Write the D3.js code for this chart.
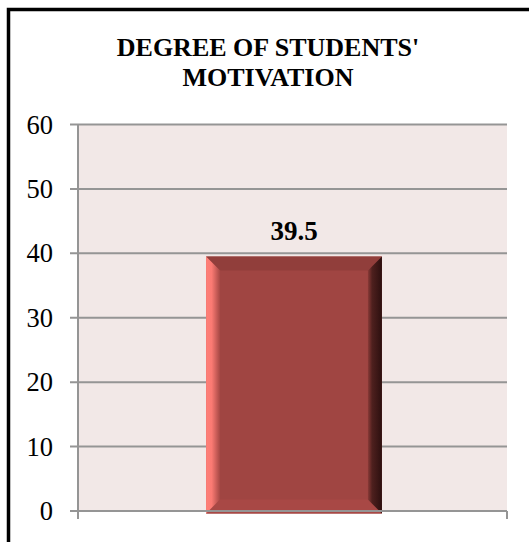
<!DOCTYPE html>
<html>
<head>
<meta charset="utf-8">
<script src="https://cdn.jsdelivr.net/npm/d3@7"></script>
<style>
  html, body { margin: 0; padding: 0; background: #fff; overflow: hidden; }
  svg text { font-family: "Liberation Serif", "Times New Roman", Tinos, serif; }
</style>
</head>
<body>
<div id="chart"></div>
<script>
const width = 529;
const height = 542;
const margin = { top: 124.5, right: 22, bottom: 31, left: 78 };

// Data
const categories = [""];
const values = [39.5];
const yTicks = [0, 10, 20, 30, 40, 50, 60];
const titleLines = ["DEGREE OF STUDENTS'", "MOTIVATION"];

const svg = d3
  .select("#chart")
  .append("svg")
  .attr("width", width)
  .attr("height", height);

// Outer chart border (runs off the right and bottom of the picture)
svg
  .append("rect")
  .attr("x", 8.5)
  .attr("y", 9.5)
  .attr("width", 700)
  .attr("height", 700)
  .attr("fill", "none")
  .attr("stroke", "#000")
  .attr("stroke-width", 3.5);

// Title
svg
  .append("text")
  .attr("x", 268)
  .attr("y", 56)
  .attr("text-anchor", "middle")
  .style("font-weight", "bold")
  .style("font-size", "26px")
  .selectAll("tspan")
  .data(titleLines)
  .join("tspan")
  .attr("x", 268)
  .attr("dy", (d, i) => (i === 0 ? 0 : 30))
  .text((d) => d);

const x = d3
  .scaleBand()
  .domain(categories)
  .range([margin.left, width - margin.right])
  .paddingInner(0)
  .paddingOuter(0.72);

const y = d3
  .scaleLinear()
  .domain([0, 60])
  .range([height - margin.bottom, margin.top]);

// Plot area background
svg
  .append("rect")
  .attr("x", margin.left)
  .attr("y", y(60))
  .attr("width", width - margin.right - margin.left)
  .attr("height", y(0) - y(60))
  .attr("fill", "#f2e8e7");

// Gridlines
svg
  .append("g")
  .selectAll("line")
  .data(yTicks.filter((d) => d > 0))
  .join("line")
  .attr("x1", margin.left - 8)
  .attr("x2", width - margin.right)
  .attr("y1", (d) => y(d))
  .attr("y2", (d) => y(d))
  .attr("stroke", "#959595")
  .attr("stroke-width", 2);

// Y axis line + category boundary ticks
svg
  .append("line")
  .attr("x1", margin.left)
  .attr("x2", margin.left)
  .attr("y1", y(60))
  .attr("y2", y(0) + 8)
  .attr("stroke", "#959595")
  .attr("stroke-width", 2);
svg
  .append("line")
  .attr("x1", width - margin.right)
  .attr("x2", width - margin.right)
  .attr("y1", y(0))
  .attr("y2", y(0) + 8)
  .attr("stroke", "#959595")
  .attr("stroke-width", 2);

// Y tick labels
svg
  .append("g")
  .selectAll("text")
  .data(yTicks)
  .join("text")
  .attr("x", 53)
  .attr("y", (d) => y(d) + 9)
  .attr("text-anchor", "end")
  .style("font-size", "26.5px")
  .text((d) => d);

// Gradients for the bevelled bar
const defs = svg.append("defs");
const leftGrad = defs.append("linearGradient").attr("id", "leftBevel");
leftGrad.append("stop").attr("offset", "0%").attr("stop-color", "#ff8079");
leftGrad.append("stop").attr("offset", "40%").attr("stop-color", "#fa7a73");
leftGrad.append("stop").attr("offset", "100%").attr("stop-color", "#a54744");
const rightGrad = defs.append("linearGradient").attr("id", "rightBevel");
rightGrad.append("stop").attr("offset", "0%").attr("stop-color", "#8a3a37");
rightGrad.append("stop").attr("offset", "30%").attr("stop-color", "#4e201e");
rightGrad.append("stop").attr("offset", "100%").attr("stop-color", "#2c0f0f");

const bev = 14;
const bars = svg
  .append("g")
  .selectAll("g")
  .data(values)
  .join("g");

bars.each(function (d, i) {
  const g = d3.select(this);
  const x0 = x(categories[i]) + 1.5;
  const x1 = x0 + x.bandwidth();
  const y0 = y(d);
  const y1 = y(0) + 2.5;
  // face
  g.append("rect")
    .attr("x", x0)
    .attr("y", y0)
    .attr("width", x1 - x0)
    .attr("height", y1 - y0)
    .attr("fill", "#a04542");
  // top bevel
  g.append("polygon")
    .attr("points", [[x0, y0], [x1, y0], [x1 - bev, y0 + bev], [x0 + bev, y0 + bev]].join(" "))
    .attr("fill", "#913e3b");
  // bottom bevel
  g.append("polygon")
    .attr("points", [[x0, y1], [x1, y1], [x1 - bev, y1 - bev], [x0 + bev, y1 - bev]].join(" "))
    .attr("fill", "#a84845");
  // left bevel
  g.append("polygon")
    .attr("points", [[x0, y0], [x0 + bev, y0 + bev], [x0 + bev, y1 - bev], [x0, y1]].join(" "))
    .attr("fill", "url(#leftBevel)");
  // right bevel
  g.append("polygon")
    .attr("points", [[x1, y0], [x1 - bev, y0 + bev], [x1 - bev, y1 - bev], [x1, y1]].join(" "))
    .attr("fill", "url(#rightBevel)");
  // value label
  g.append("text")
    .attr("x", (x0 + x1) / 2)
    .attr("y", y0 - 17)
    .attr("text-anchor", "middle")
    .style("font-weight", "bold")
    .style("font-size", "27px")
    .text(d);
});

// Zero baseline drawn over the bar
svg
  .append("line")
  .attr("x1", margin.left - 8)
  .attr("x2", width - margin.right)
  .attr("y1", y(0))
  .attr("y2", y(0))
  .attr("stroke", "#959595")
  .attr("stroke-width", 2);
</script>
</body>
</html>
